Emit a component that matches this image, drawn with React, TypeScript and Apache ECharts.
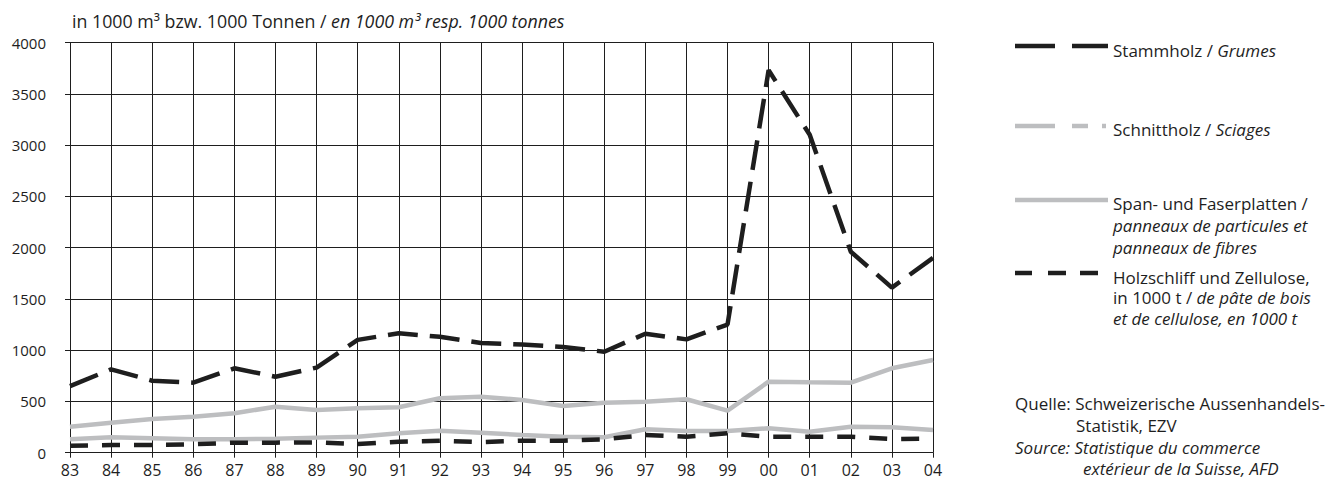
import React, { useEffect, useRef } from "react";
import * as echarts from "echarts";

const years = ["83","84","85","86","87","88","89","90","91","92","93","94","95","96","97","98","99","00","01","02","03","04"];
const stammholz = [650,813,702,683,823,741,830,1100,1165,1130,1070,1055,1030,985,1160,1105,1250,3730,3100,1960,1610,1900];
const schnittholz = [254,293,329,351,384,449,417,433,443,531,546,514,456,488,498,521,410,693,687,683,823,904];
const spanplatten = [130,150,140,130,130,137,147,156,189,215,195,173,156,150,228,212,212,238,205,254,248,221];
const holzschliff = [68,75,75,82,98,98,101,85,107,117,104,117,117,130,173,156,189,156,156,156,134,137];
const yTicks = { min: 0, max: 4000, interval: 500 };

const FONT = "'Open Sans', 'Noto Sans', sans-serif";
const FS = 17;
const INK = "#1e1e1e";
const GRAY = "#bdbec0";

export default function App() {
  const ref = useRef<HTMLDivElement>(null);
  useEffect(() => {
    document.body.style.margin = "0";
    const chart = echarts.init(ref.current!, null, { renderer: "svg" });
    const txt = (x: number, y: number, text: string, fs = FS, lh?: number) => ({
      type: "text",
      x,
      y,
      style: {
        text,
        fill: INK,
        fontFamily: FONT,
        fontSize: fs,
        lineHeight: lh,
        verticalAlign: "middle",
        textAlign: "left",
        rich: {
          n: { fontFamily: FONT, fontSize: fs, fill: INK, fontStyle: "normal", lineHeight: lh },
          i: { fontFamily: FONT, fontSize: fs, fill: INK, fontStyle: "italic", lineHeight: lh },
        },
      },
    });
    const seg = (x1: number, x2: number, y: number, color: string) => ({
      type: "line",
      shape: { x1, y1: y, x2, y2: y },
      style: { stroke: color, lineWidth: 4.5 },
    });
    chart.setOption({
      animation: false,
      grid: { left: 70, right: 394, top: 42.5, bottom: 28.3 },
      textStyle: { fontFamily: FONT },
      xAxis: {
        type: "category",
        data: years,
        boundaryGap: false,
        axisLine: { lineStyle: { color: INK, width: 1 } },
        axisTick: { show: true, length: 5, lineStyle: { color: INK } },
        axisLabel: { color: INK, fontSize: 16, fontFamily: FONT, margin: 9 },
        splitLine: { show: true, lineStyle: { color: INK, width: 1 } },
      },
      yAxis: {
        type: "value",
        min: yTicks.min,
        max: yTicks.max,
        interval: yTicks.interval,
        axisLine: { show: true, lineStyle: { color: INK, width: 1 } },
        axisTick: { show: true, length: 5, lineStyle: { color: INK } },
        axisLabel: {
          color: INK,
          fontSize: 15,
          fontFamily: FONT,
          margin: 24,
          formatter: (v: number) => String(v),
        },
        splitLine: { show: true, lineStyle: { color: INK, width: 1 } },
      },
      series: [
        {
          name: "Span- und Faserplatten",
          type: "line",
          data: spanplatten,
          symbol: "none",
          lineStyle: { color: GRAY, width: 4.5 },
          z: 2,
        },
        {
          name: "Schnittholz",
          type: "line",
          data: schnittholz,
          symbol: "none",
          lineStyle: { color: GRAY, width: 4.5 },
          z: 2,
        },
        {
          name: "Holzschliff und Zellulose",
          type: "line",
          data: holzschliff,
          symbol: "none",
          lineStyle: { color: INK, width: 4.5, type: [18, 14], cap: "butt" },
          z: 3,
        },
        {
          name: "Stammholz",
          type: "line",
          data: stammholz,
          symbol: "none",
          lineStyle: { color: INK, width: 4.5, type: [30, 12], cap: "butt" },
          z: 3,
        },
      ],
      graphic: [
        txt(72, 21, "{n|in 1000 m³ bzw. 1000 Tonnen / }{i|en 1000 m³ resp. 1000 tonnes}", 17.8),
        seg(1015, 1055, 46, INK),
        seg(1072, 1108, 46, INK),
        txt(1113, 50, "{n|Stammholz / }{i|Grumes}"),
        seg(1015, 1055, 126, GRAY),
        seg(1072, 1088, 126, GRAY),
        seg(1102, 1106, 126, GRAY),
        txt(1113, 129, "{n|Schnittholz / }{i|Sciages}"),
        seg(1015, 1108, 200, GRAY),
        txt(1113, 225, "{n|Span- und Faserplatten /}\n{i|panneaux de particules et}\n{i|panneaux de fibres}", FS, 22),
        seg(1015, 1032, 273, INK),
        seg(1048, 1066, 273, INK),
        seg(1080, 1098, 273, INK),
        txt(1113, 297.5, "{n|Holzschliff und Zellulose,}\n{n|in 1000 t / }{i|de pâte de bois}\n{i|et de cellulose, en 1000 t}", FS, 20.5),
        txt(1015, 403, "{n|Quelle: Schweizerische Aussenhandels-}"),
        txt(1076, 425, "{n|Statistik, EZV}"),
        txt(1015, 447, "{i|Source: Statistique du commerce}"),
        txt(1083, 468, "{i|extérieur de la Suisse, AFD}"),
      ],
    });
    return () => chart.dispose();
  }, []);
  return <div ref={ref} style={{ width: 1327, height: 481 }} />;
}
